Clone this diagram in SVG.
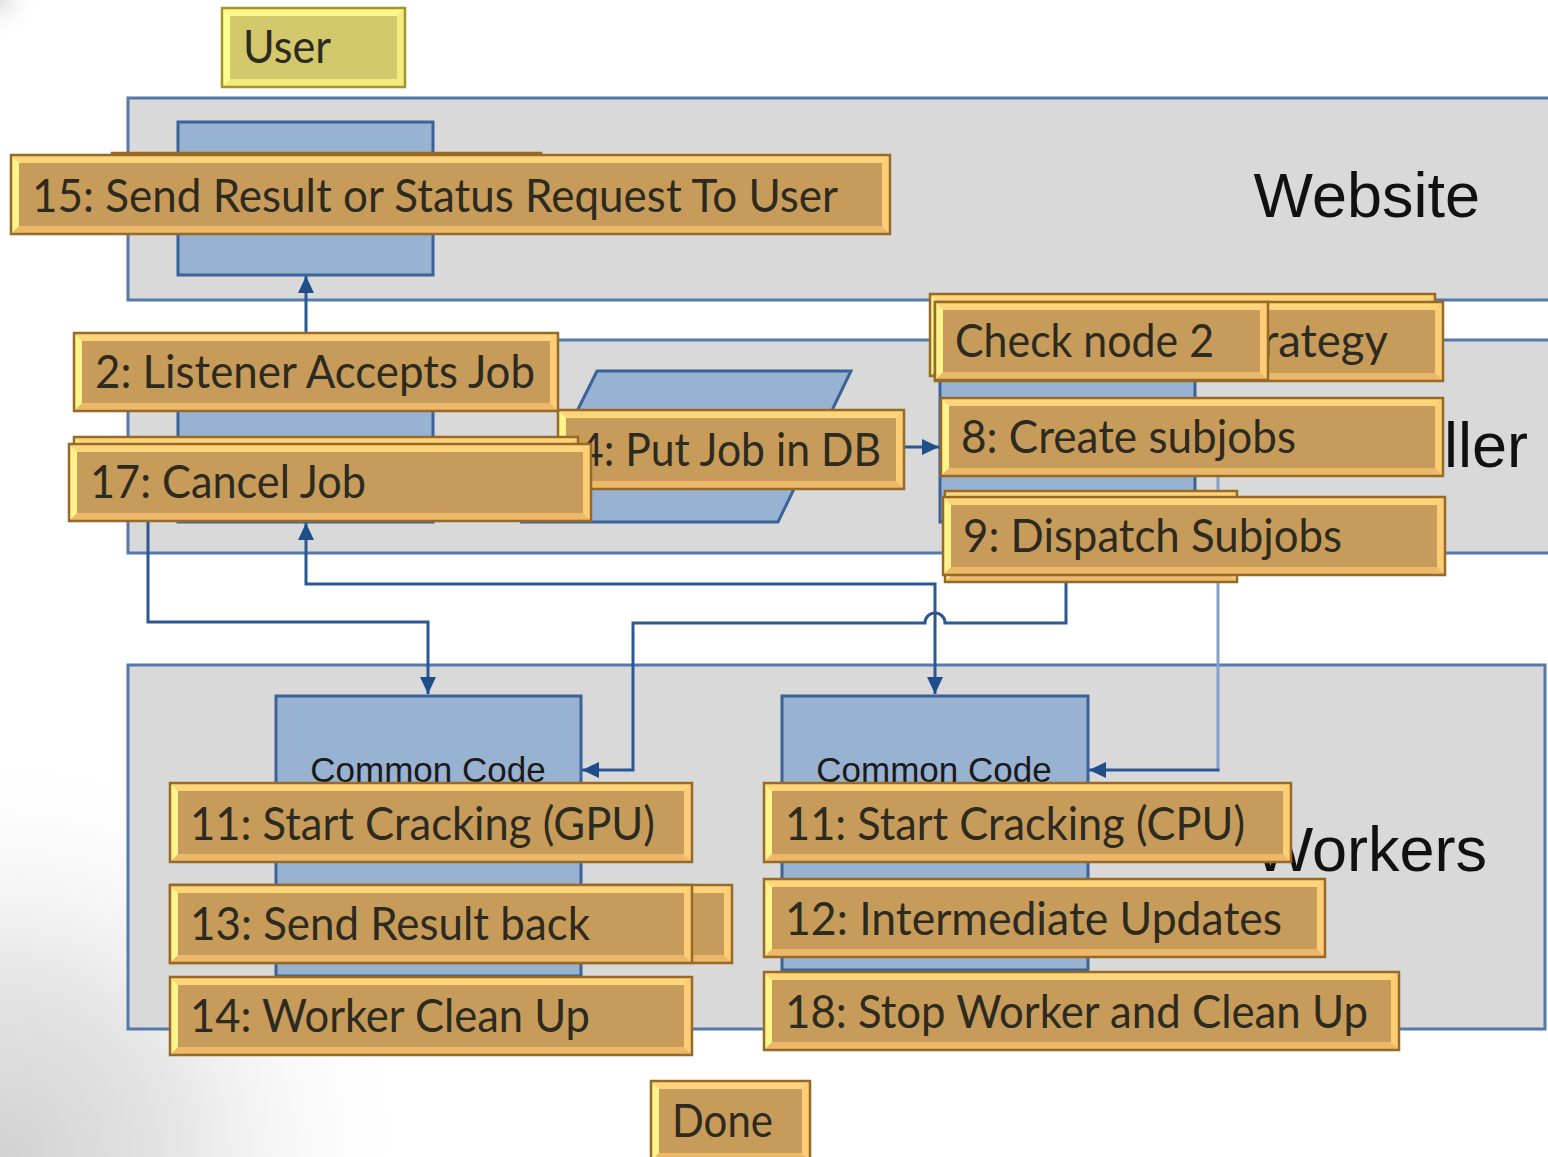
<svg xmlns="http://www.w3.org/2000/svg" width="1548" height="1157" viewBox="0 0 1548 1157">
  <defs>
    <radialGradient id="shadeBL" cx="0" cy="1157" r="430" gradientUnits="userSpaceOnUse">
      <stop offset="0" stop-color="#d2d2d2"/>
      <stop offset="0.4" stop-color="#e4e4e4"/>
      <stop offset="1" stop-color="#ffffff" stop-opacity="0"/>
    </radialGradient>
    <radialGradient id="shadeTL" cx="0" cy="0" r="40" gradientUnits="userSpaceOnUse">
      <stop offset="0" stop-color="#e2e2e2"/>
      <stop offset="1" stop-color="#ffffff" stop-opacity="0"/>
    </radialGradient>
    <marker id="arr" viewBox="0 0 10 10" refX="10" refY="5" markerWidth="17" markerHeight="16" markerUnits="userSpaceOnUse" orient="auto-start-reverse" preserveAspectRatio="none">
      <path d="M0,0 L10,5 L0,10 z" fill="#1f4f8a"/>
    </marker>
    <style>
      .zone { fill: #d9d9d9; stroke: #5579a8; stroke-width: 3; }
      .part { fill: #98b2d1; stroke: #3b6399; stroke-width: 3; }
      .zlabel { font-family: "Liberation Sans", Arial, sans-serif; font-size: 63px; fill: #111111; }
      .plabel { font-family: "Liberation Sans", Arial, sans-serif; font-size: 35px; fill: #1a1a1a; text-anchor: middle; }
      .wire { fill: none; stroke: #2a5893; stroke-width: 3; }
      .wire.light { stroke: #86a2c8; }
      .gb { fill: #ecb86a; }
      .bt { fill: #ffd57b; }
      .bl { fill: #fff48c; }
      .br { fill: #ffcd76; }
      .bc { fill: #c79c5a; }
      .gs { fill: none; stroke: #976a28; stroke-width: 2.5; }
      .yb { fill: #f3ea80; }
      .ybt { fill: #fcf788; }
      .ybl { fill: #ffff8e; }
      .ybr { fill: #f3ea80; }
      .ybc { fill: #d3c96c; }
      .ys { fill: none; stroke: #a3952e; stroke-width: 2.5; }
      .t { font-family: Lato, "Open Sans", sans-serif; font-size: 47px; fill: #2d2a1f; }
    </style>
  </defs>

  <!-- page background with soft corner shading -->
  <rect width="1548" height="1157" fill="#ffffff"/>
  <rect width="1548" height="1157" fill="url(#shadeBL)"/>
  <rect width="60" height="60" fill="url(#shadeTL)"/>

  <!-- tier containers -->
  <g id="website">
    <rect class="zone" x="128" y="98" width="1424" height="202"/>
    <rect class="part" x="178" y="122" width="255" height="153"/>
    <text class="zlabel" x="1480" y="217" text-anchor="end">Website</text>
  </g>
  <g id="controller">
    <rect class="zone" x="128" y="340" width="1424" height="213"/>
    <rect class="part" x="178" y="388" width="255" height="134"/>
    <polygon class="part" points="597,371 851,371 778,522 522,522"/>
    <rect class="part" x="940" y="380" width="255" height="142"/>
    <text class="zlabel" x="1528" y="467" text-anchor="end">ller</text>
  </g>
  <g id="workers">
    <rect class="zone" x="128" y="665" width="1417" height="364"/>
    <rect class="part" x="276" y="696" width="305" height="280"/>
    <text class="plabel" x="428" y="782">Common Code</text>
    <rect class="part" x="782" y="696" width="306" height="274"/>
    <text class="plabel" x="934" y="782">Common Code</text>
    <text class="zlabel" x="1487" y="871" text-anchor="end" font-size="64">Workers</text>
  </g>

  <!-- connectors -->
  <g id="connectors">
    <path class="wire" d="M306,388 V276" marker-end="url(#arr)"/>
    <path class="wire" d="M905,447 H939" marker-end="url(#arr)"/>
    <path class="wire" d="M148,520 V622 H428 V694" marker-end="url(#arr)"/>
    <path class="wire" d="M306,523 V584 H935 V694" marker-start="url(#arr)" marker-end="url(#arr)"/>
    <path class="wire" d="M1066,580 V623 H945 A10,10 0 0 0 925,623 H633 V770 H582" marker-end="url(#arr)"/>
    <path class="wire light" d="M1218,476 V770"/>
    <path class="wire" d="M1219.5,770 H1089" marker-end="url(#arr)"/>
  </g>

  <!-- step boxes -->
  <g id="n-user" transform="translate(222,8)">
    <rect class="yb" width="183" height="79"/>
    <polygon class="ybt" points="0,0 183,0 175,8 8,8"/>
    <polygon class="ybl" points="0,0 8,8 8,71 0,79"/>
    <polygon class="ybr" points="183,0 183,79 175,71 175,8"/>
    <rect class="ybc" x="8" y="8" width="167" height="63"/>
    <rect class="ys" width="183" height="79"/>
    <text class="t" x="21" y="55" textLength="88" lengthAdjust="spacingAndGlyphs">User</text>
  </g>

  <g id="n15-back" transform="translate(112,153)">
    <rect class="gb" width="429" height="79"/>
    <polygon class="bt" points="0,0 429,0 421,8 8,8"/>
    <polygon class="bl" points="0,0 8,8 8,71 0,79"/>
    <polygon class="br" points="429,0 429,79 421,71 421,8"/>
    <rect class="bc" x="8" y="8" width="413" height="63"/>
    <rect class="gs" width="429" height="79"/>
  </g>
  <g id="n15" transform="translate(11,155)">
    <rect class="gb" width="879" height="79"/>
    <polygon class="bt" points="0,0 879,0 871,8 8,8"/>
    <polygon class="bl" points="0,0 8,8 8,71 0,79"/>
    <polygon class="br" points="879,0 879,79 871,71 871,8"/>
    <rect class="bc" x="8" y="8" width="863" height="63"/>
    <rect class="gs" width="879" height="79"/>
    <text class="t" x="21" y="57" textLength="806" lengthAdjust="spacingAndGlyphs">15: Send Result or Status Request To User</text>
  </g>

  <g id="n4" transform="translate(558,410)">
    <rect class="gb" width="346" height="79"/>
    <polygon class="bt" points="0,0 346,0 338,8 8,8"/>
    <polygon class="bl" points="0,0 8,8 8,71 0,79"/>
    <polygon class="br" points="346,0 346,79 338,71 338,8"/>
    <rect class="bc" x="8" y="8" width="330" height="63"/>
    <rect class="gs" width="346" height="79"/>
    <text class="t" x="21" y="56" textLength="302" lengthAdjust="spacingAndGlyphs">4: Put Job in DB</text>
  </g>

  <g id="n2" transform="translate(74,333)">
    <rect class="gb" width="484" height="78"/>
    <polygon class="bt" points="0,0 484,0 476,8 8,8"/>
    <polygon class="bl" points="0,0 8,8 8,70 0,78"/>
    <polygon class="br" points="484,0 484,78 476,70 476,8"/>
    <rect class="bc" x="8" y="8" width="468" height="62"/>
    <rect class="gs" width="484" height="78"/>
    <text class="t" x="21" y="55" textLength="440" lengthAdjust="spacingAndGlyphs">2: Listener Accepts Job</text>
  </g>

  <g id="n17-back" transform="translate(74,437)">
    <rect class="gb" width="504" height="78"/>
    <polygon class="bt" points="0,0 504,0 496,8 8,8"/>
    <polygon class="bl" points="0,0 8,8 8,70 0,78"/>
    <polygon class="br" points="504,0 504,78 496,70 496,8"/>
    <rect class="bc" x="8" y="8" width="488" height="62"/>
    <rect class="gs" width="504" height="78"/>
  </g>
  <g id="n17" transform="translate(69,444)">
    <rect class="gb" width="522" height="77"/>
    <polygon class="bt" points="0,0 522,0 514,8 8,8"/>
    <polygon class="bl" points="0,0 8,8 8,69 0,77"/>
    <polygon class="br" points="522,0 522,77 514,69 514,8"/>
    <rect class="bc" x="8" y="8" width="506" height="61"/>
    <rect class="gs" width="522" height="77"/>
    <text class="t" x="21" y="54" textLength="276" lengthAdjust="spacingAndGlyphs">17: Cancel Job</text>
  </g>

  <g id="n7-back" transform="translate(930,294)">
    <rect class="gb" width="505" height="82"/>
    <polygon class="bt" points="0,0 505,0 497,8 8,8"/>
    <polygon class="bl" points="0,0 8,8 8,74 0,82"/>
    <polygon class="br" points="505,0 505,82 497,74 497,8"/>
    <rect class="bc" x="8" y="8" width="489" height="66"/>
    <rect class="gs" width="505" height="82"/>
  </g>
  <g id="n7" transform="translate(935,302)">
    <rect class="gb" width="508" height="79"/>
    <polygon class="bt" points="0,0 508,0 500,8 8,8"/>
    <polygon class="bl" points="0,0 8,8 8,71 0,79"/>
    <polygon class="br" points="508,0 508,79 500,71 500,8"/>
    <rect class="bc" x="8" y="8" width="492" height="63"/>
    <rect class="gs" width="508" height="79"/>
    <text class="t" x="327" y="55" textLength="126" lengthAdjust="spacingAndGlyphs">rategy</text>
  </g>
  <g id="n-check" transform="translate(935,302)">
    <rect class="gb" width="333" height="78"/>
    <polygon class="bt" points="0,0 333,0 325,8 8,8"/>
    <polygon class="bl" points="0,0 8,8 8,70 0,78"/>
    <polygon class="br" points="333,0 333,78 325,70 325,8"/>
    <rect class="bc" x="8" y="8" width="317" height="62"/>
    <rect class="gs" width="333" height="78"/>
    <text class="t" x="20" y="55" textLength="259" lengthAdjust="spacingAndGlyphs">Check node 2</text>
  </g>

  <g id="n8" transform="translate(941,398)">
    <rect class="gb" width="502" height="78"/>
    <polygon class="bt" points="0,0 502,0 494,8 8,8"/>
    <polygon class="bl" points="0,0 8,8 8,70 0,78"/>
    <polygon class="br" points="502,0 502,78 494,70 494,8"/>
    <rect class="bc" x="8" y="8" width="486" height="62"/>
    <rect class="gs" width="502" height="78"/>
    <text class="t" x="20" y="55" textLength="335" lengthAdjust="spacingAndGlyphs">8: Create subjobs</text>
  </g>

  <g id="n9-back" transform="translate(945,491)">
    <rect class="gb" width="292" height="91"/>
    <polygon class="bt" points="0,0 292,0 284,8 8,8"/>
    <polygon class="bl" points="0,0 8,8 8,83 0,91"/>
    <polygon class="br" points="292,0 292,91 284,83 284,8"/>
    <rect class="bc" x="8" y="8" width="276" height="75"/>
    <rect class="gs" width="292" height="91"/>
  </g>
  <g id="n9" transform="translate(943,497)">
    <rect class="gb" width="502" height="78"/>
    <polygon class="bt" points="0,0 502,0 494,8 8,8"/>
    <polygon class="bl" points="0,0 8,8 8,70 0,78"/>
    <polygon class="br" points="502,0 502,78 494,70 494,8"/>
    <rect class="bc" x="8" y="8" width="486" height="62"/>
    <rect class="gs" width="502" height="78"/>
    <text class="t" x="20" y="55" textLength="379" lengthAdjust="spacingAndGlyphs">9: Dispatch Subjobs</text>
  </g>

  <g id="n11-gpu" transform="translate(170,783)">
    <rect class="gb" width="522" height="79"/>
    <polygon class="bt" points="0,0 522,0 514,8 8,8"/>
    <polygon class="bl" points="0,0 8,8 8,71 0,79"/>
    <polygon class="br" points="522,0 522,79 514,71 514,8"/>
    <rect class="bc" x="8" y="8" width="506" height="63"/>
    <rect class="gs" width="522" height="79"/>
    <text class="t" x="20" y="57" textLength="465" lengthAdjust="spacingAndGlyphs">11: Start Cracking (GPU)</text>
  </g>

  <g id="n13-back" transform="translate(170,885)">
    <rect class="gb" width="562" height="78"/>
    <polygon class="bt" points="0,0 562,0 554,8 8,8"/>
    <polygon class="bl" points="0,0 8,8 8,70 0,78"/>
    <polygon class="br" points="562,0 562,78 554,70 554,8"/>
    <rect class="bc" x="8" y="8" width="546" height="62"/>
    <rect class="gs" width="562" height="78"/>
  </g>
  <g id="n13" transform="translate(170,885)">
    <rect class="gb" width="522" height="78"/>
    <polygon class="bt" points="0,0 522,0 514,8 8,8"/>
    <polygon class="bl" points="0,0 8,8 8,70 0,78"/>
    <polygon class="br" points="522,0 522,78 514,70 514,8"/>
    <rect class="bc" x="8" y="8" width="506" height="62"/>
    <rect class="gs" width="522" height="78"/>
    <text class="t" x="20" y="55" textLength="400" lengthAdjust="spacingAndGlyphs">13: Send Result back</text>
  </g>

  <g id="n14" transform="translate(170,977)">
    <rect class="gb" width="522" height="78"/>
    <polygon class="bt" points="0,0 522,0 514,8 8,8"/>
    <polygon class="bl" points="0,0 8,8 8,70 0,78"/>
    <polygon class="br" points="522,0 522,78 514,70 514,8"/>
    <rect class="bc" x="8" y="8" width="506" height="62"/>
    <rect class="gs" width="522" height="78"/>
    <text class="t" x="20" y="55" textLength="400" lengthAdjust="spacingAndGlyphs">14: Worker Clean Up</text>
  </g>

  <g id="n11-cpu" transform="translate(764,783)">
    <rect class="gb" width="527" height="79"/>
    <polygon class="bt" points="0,0 527,0 519,8 8,8"/>
    <polygon class="bl" points="0,0 8,8 8,71 0,79"/>
    <polygon class="br" points="527,0 527,79 519,71 519,8"/>
    <rect class="bc" x="8" y="8" width="511" height="63"/>
    <rect class="gs" width="527" height="79"/>
    <text class="t" x="21" y="57" textLength="460" lengthAdjust="spacingAndGlyphs">11: Start Cracking (CPU)</text>
  </g>

  <g id="n12" transform="translate(764,879)">
    <rect class="gb" width="561" height="78"/>
    <polygon class="bt" points="0,0 561,0 553,8 8,8"/>
    <polygon class="bl" points="0,0 8,8 8,70 0,78"/>
    <polygon class="br" points="561,0 561,78 553,70 553,8"/>
    <rect class="bc" x="8" y="8" width="545" height="62"/>
    <rect class="gs" width="561" height="78"/>
    <text class="t" x="21" y="56" textLength="497" lengthAdjust="spacingAndGlyphs">12: Intermediate Updates</text>
  </g>

  <g id="n18" transform="translate(764,972)">
    <rect class="gb" width="635" height="78"/>
    <polygon class="bt" points="0,0 635,0 627,8 8,8"/>
    <polygon class="bl" points="0,0 8,8 8,70 0,78"/>
    <polygon class="br" points="635,0 635,78 627,70 627,8"/>
    <rect class="bc" x="8" y="8" width="619" height="62"/>
    <rect class="gs" width="635" height="78"/>
    <text class="t" x="21" y="56" textLength="583" lengthAdjust="spacingAndGlyphs">18: Stop Worker and Clean Up</text>
  </g>

  <g id="n-done" transform="translate(651,1081)">
    <rect class="gb" width="159" height="80"/>
    <polygon class="bt" points="0,0 159,0 151,8 8,8"/>
    <polygon class="bl" points="0,0 8,8 8,72 0,80"/>
    <polygon class="br" points="159,0 159,80 151,72 151,8"/>
    <rect class="bc" x="8" y="8" width="143" height="64"/>
    <rect class="gs" width="159" height="80"/>
    <text class="t" x="21" y="56" textLength="101" lengthAdjust="spacingAndGlyphs">Done</text>
  </g>
</svg>
